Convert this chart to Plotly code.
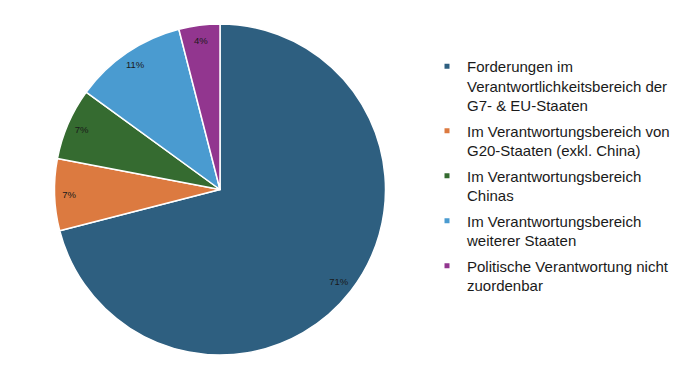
import plotly.graph_objects as go

categories = [
    "Forderungen im<br>Verantwortlichkeitsbereich der<br>G7- & EU-Staaten",
    "Im Verantwortungsbereich von<br>G20-Staaten (exkl. China)",
    "Im Verantwortungsbereich<br>Chinas",
    "Im Verantwortungsbereich<br>weiterer Staaten",
    "Politische Verantwortung nicht<br>zuordenbar",
]
values = [71, 7, 7, 11, 4]
colors = ["#2e5f80", "#dc7a40", "#356b30", "#4a9bd0", "#92368f"]

FONT = "Liberation Sans, Arial, Helvetica, sans-serif"
domain = dict(x=[54/680, 386/680], y=[33/388, 364/388])

fig = go.Figure()

# main pie (slices)
fig.add_trace(go.Pie(
    labels=categories,
    values=values,
    sort=False,
    direction="clockwise",
    rotation=0,
    marker=dict(colors=colors, line=dict(color="white", width=1.5)),
    textinfo="none",
    domain=domain,
    showlegend=False,
    hoverinfo="label+percent",
))

# transparent ring carrying the percentage labels near the outer edge
fig.add_trace(go.Pie(
    labels=categories,
    values=values,
    sort=False,
    direction="clockwise",
    rotation=0,
    hole=0.82,
    marker=dict(colors=["rgba(0,0,0,0)"] * len(values), line=dict(width=0)),
    texttemplate="%{percent:.0%}",
    textposition="inside",
    insidetextorientation="horizontal",
    textfont=dict(family=FONT, size=9.5, color="#1a1a1a"),
    domain=domain,
    showlegend=False,
    hoverinfo="skip",
))

# legend entries
for i, (name, col) in enumerate(zip(categories, colors)):
    fig.add_trace(go.Scatter(
        x=[None], y=[None], mode="markers", name=name,
        legendgroup=f"g{i}",
        marker=dict(symbol="square", size=5, color=col),
        hoverinfo="skip",
    ))

fig.update_layout(
    width=680, height=388,
    margin=dict(l=0, r=0, t=0, b=0),
    paper_bgcolor="white",
    plot_bgcolor="white",
    showlegend=True,
    xaxis=dict(visible=False),
    yaxis=dict(visible=False),
    legend=dict(
        x=427/680, y=1 - 50/388, xanchor="left", yanchor="top",
        font=dict(family=FONT, size=15, color="#1a1a1a"),
        valign="top",
        itemwidth=30,
        traceorder="grouped",
        tracegroupgap=3,
        bgcolor="rgba(0,0,0,0)",
    ),
    uniformtext=dict(minsize=9.5, mode="show"),
)

fig.write_html("out.html", config={"displayModeBar": False},
               post_script="document.body.style.margin='0';")
